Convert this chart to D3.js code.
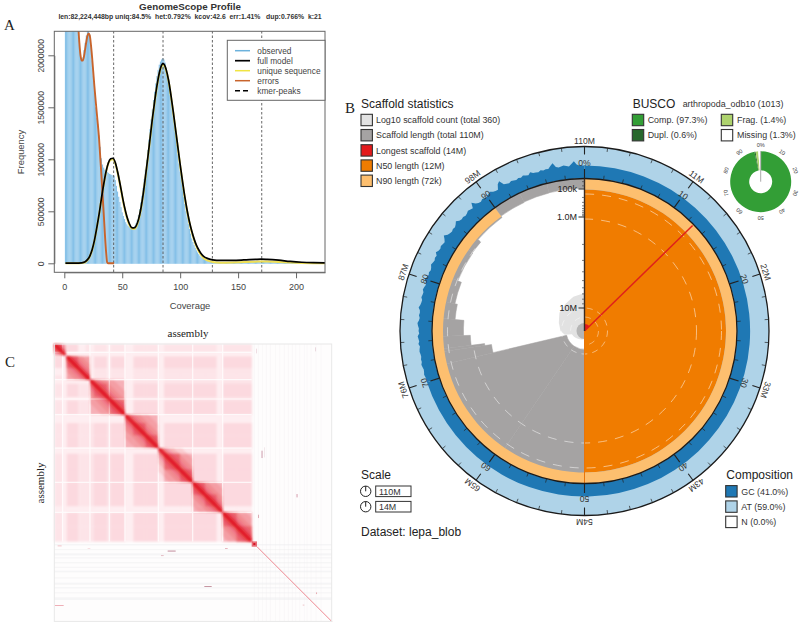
<!DOCTYPE html>
<html><head><meta charset="utf-8">
<script src="https://cdn.jsdelivr.net/npm/d3@7"></script>
<style>html,body{margin:0;padding:0;background:#fff}svg{display:block}text{font-family:"Liberation Sans",Arial,sans-serif}</style>
</head><body><svg id="c" width="800" height="625"></svg>
<script>
// ---------- GenomeScope data (frequency in thousands) ----------
const gsTitle = "GenomeScope Profile";
const gsSub = "len:82,224,448bp uniq:84.5%  het:0.792%  kcov:42.6  err:1.41%   dup:0.766%  k:21";
const observed = [9000,8000,7000,6000,5200,4500,3900,3400,3000,2700,2450,2250,2100,2000,1960,1980,2050,2120,2190,2230,2240,2200,2090,1950,1800,1660,1500,1400,1340,1230,1120,1010,950,920,900,890,880,870,860,855,850,845,840,800,745,690,640,590,540,490,455,425,395,375,360,350,340,335,335,345,360,385,420,465,520,585,650,725,810,900,995,1090,1190,1290,1385,1480,1570,1650,1730,1800,1860,1910,1940,1960,1970,1960,1930,1880,1820,1750,1670,1590,1500,1410,1320,1230,1140,1050,960,880,800,720,640,570,500,440,380,330,285,240,205,175,148,125,105,88,74,62,52,44,38,33,29,25,22,19,17,15,14,13,13,12,12,11,11,10,10,10,10,10,11,11,11,12,12,13,13,14,14,15,15,16,16,17,17,18,18,18,19,19,19,19,19,19,18,18,18,17,17,16,16,15,15,14,13,13,12,12,11,11,10,10,9,9,8,8,7,7,6,6,6,5,5,5,4,4,4,4,3,3,3,3,3,3,2,2,2,2,2,2,2];
const modelCov = [1,10,15,18,20,22,24,26,28,30,32,34,36,38,40,42,44,46,48,50,52,54,56,58,60,62,64,66,68,70,72,74,76,78,80,82,84,85,86,88,90,92,94,96,98,100,102,104,106,108,110,112,114,116,118,120,124,128,135,145,155,165,170,175,185,195,205,215,225];
const modelVal = [2,2,5,15,35,70,130,220,340,470,620,760,880,965,1005,1010,970,880,770,650,540,450,385,345,340,360,420,520,660,830,1010,1200,1390,1560,1710,1830,1905,1920,1915,1860,1760,1620,1460,1290,1120,950,790,640,510,400,310,235,175,130,95,70,45,33,28,28,32,38,40,38,30,18,10,6,4];
const uniqueVal = [0,0,2,10,30,65,125,215,335,465,615,755,875,960,995,1000,960,870,760,640,530,440,375,335,330,350,410,510,650,820,1000,1190,1380,1550,1700,1820,1895,1910,1905,1850,1750,1610,1450,1280,1110,940,780,630,500,390,300,225,162,115,80,52,25,12,6,8,12,16,18,17,12,7,3,1,0];
const errorCov = [8,10,12,13,14,15,16,17,18,19,20,21,22,23,24,25,26,28,30,32,34,36,37,38,43];
const errorVal = [4000,2900,2300,2120,2000,1950,1950,1990,2060,2130,2190,2210,2190,2100,1980,1840,1700,1450,1200,850,480,120,10,0,0];
const kmerPeaks = [42.6,85.2,127.8,170.4];
const gsLegend = ["observed","full model","unique sequence","errors","kmer-peaks"];
const gsLegendColors = ["#6cb2dc","#000","#f0e442","#c8642c","#000"];
const gsYTicks = [0,500000,1000000,1500000,2000000];
const gsXTicks = [0,50,100,150,200];

// ---------- Snail data ----------
const scaffoldEnd = [12.7,24.5,36.5,48,59.5,71.3,72.7,73,74.4,76.4,78.3,81,84.7,86.3,90,93,96,100];
const scaffoldLen = [14e6,12e6,12e6,11.5e6,10.7e6,10.7e6,1.66e6,1.4e6,0.98e6,0.56e6,0.27e6,0.22e6,0.16e6,0.155e6,0.115e6,0.1e6,0.09e6,0.085e6];
const logCountPct = [50,55,60,64,67,71,72,75,80,85,90,95,100];
const logCountR   = [8,9,10,11,12,13,20,24,27,31,33,36,38];
const gcFlat = 0.41;
const gcFrom = 70;
const gcBins = [.41,.40,.41,.43,.41,.40,.42,.44,.41,.42,.40,.41,.43,.42,.40,.44,.41,.43,.45,.40,.42,.41,.44,.46,.42,.40,.43,.41,.42,.47,.43,.41,.40,.44,.42,.41,.45,.43,.40,.42,.48,.44,.41,.43,.40,.42,.46,.43,.41,.44,.42,.49,.44,.42,.45,.43,.41,.47,.55,.46,.43,.41,.44,.42,.46,.52,.45,.42,.44,.41,.43,.47,.44,.42,.58,.47,.43,.41,.45,.43,.42,.46,.50,.44,.42,.41,.56,.62,.47,.44,.42,.45,.43,.41,.44,.42,.46,.43,.41,.48,.43,.42,.40,.44,.41,.43,.42,.50,.57,.44,.41,.43,.45,.42,.40,.47,.55,.44,.41,.41];
const outerLabels = ["110M","11M","22M","33M","43M","54M","65M","76M","87M","98M"];
const innerLabels = ["0%","10","20","30","40","50","60","70","80","90"];
const axisMajor = [["100k",1e5],["1.0M",1e6],["10M",1e7]];
const axisMinor = [2e4,5e4,2e5,3e5,4e5,5e5,6e5,7e5,8e5,9e5,2e6,3e6,4e6,5e6,6e6,7e6,8e6,9e6];
const statsLegend = ["Log10 scaffold count (total 360)","Scaffold length (total 110M)","Longest scaffold (14M)","N50 length (12M)","N90 length (72k)"];
const statsColors = ["#e2e2e2","#a5a3a3","#e31a1c","#f07c00","#fdbf6f"];
const compLegend = ["GC (41.0%)","AT (59.0%)","N (0.0%)"];
const compColors = ["#1f78b4","#afd3e8","#fff"];
const buscoNames = ["Comp. (97.3%)","Dupl. (0.6%)","Frag. (1.4%)","Missing (1.3%)"];
const buscoColors = ["#339e36","#27682c","#aed36e","#fff"];
const buscoVals = [97.3,0.6,1.4,1.3];

// ---------- Hi-C data (positions in map units) ----------
const hicEdges = [0,25,37,72,94,107,119,159,169,212,237,274,312,329,377,415,452,487,505,547,592];
const hicRows = [
"63423232323323333233",
"3222222222222222222",
"655242424424424442".slice(0,0)+"655242424424444244",
"55232323323333233",
"6232323323333233",
"555523323333233",
"65524424444244",
"5523323333233",
"624424444244",
"55522222222",
"6524444244",
"624444244",
"33322222",
"6544244",
"644244",
"65544",
"6544",
"522",
"65",
"6"];
const hicGaps = [25,107,165,212,312,415,505];
const chromStart = [0,37,107,212,312,415,505];
const chromEnd   = [34,107,212,312,415,505,592];
const stripHalf = [70,45,28,16,9,4];
const stripAlpha = [.1,.12,.16,.25,.5,.95];
const residBandsH = [[600,4],[615,3],[628,6],[640,3],[654,4],[668,3],[680,5],[700,3],[716,6],[729,4],[745,3],[760,8]];
const residBandsV = [600,612,625,636,648,664,676,690,702,714,724,736,750,758,770,785,800];
const hicSpots = [[605,14,2,14,"#e0bcc8"],[783,10,2,12,"#d8b4c0"],[622,320,2,22,"#a04060"],[630,310,1,30,"#d0aab8"],[727,450,2,10,"#b04060"],[612,512,2,10,"#c06070"],[340,620,24,2,"#8a2040"],[450,726,22,2,"#90304a"],[2,783,26,2,"#e06070"],[512,612,8,2,"#d07080"],[320,634,8,2,"#d08090"],[10,604,12,3,"#f0b0b8"],[100,612,8,2,"#f0c0c8"],[745,782,5,2,"#e09098"],[785,745,3,5,"#e09098"]];
const hicCorner = [[592,592,16,16,.6],[597,597,6,6,1]];
const hicTail = [608,832];

// ---------- Drawing ----------
const svg = d3.select("#c");
const defs = svg.append("defs");
defs.append("clipPath").attr("id","gsClip").append("rect").attr("x",54.3).attr("y",31.3).attr("width",270.7).attr("height",241);
defs.append("filter").attr("id","soft").append("feGaussianBlur").attr("stdDeviation",1.1);
defs.append("filter").attr("id","soft2").append("feGaussianBlur").attr("stdDeviation",0.9);

// A: GenomeScope
const gx = d3.scaleLinear().domain([0,225]).range([64.3,325]);
const gy = d3.scaleLinear().domain([0,2000000]).range([263.3,55.3]);
const A = svg.append("g");
A.append("g").attr("clip-path","url(#gsClip)").selectAll("rect").data(observed).join("rect")
  .attr("x",(d,i)=>gx(i+0.5)).attr("width",gx(1)-gx(0)-0.06)
  .attr("y",d=>gy(d*1000)).attr("height",d=>gy(0)-gy(d*1000)+0.5).attr("fill","#86c1e8");
const clipG = A.append("g").attr("clip-path","url(#gsClip)");
kmerPeaks.forEach(k=>clipG.append("line").attr("x1",gx(k)).attr("x2",gx(k)).attr("y1",31).attr("y2",273)
  .attr("stroke","#555").attr("stroke-dasharray","2.5 2").attr("stroke-width",0.9));
const ln = d3.line().curve(d3.curveMonotoneX);
const series = (xs,ys)=>ln(xs.map((c,i)=>[gx(c),gy(ys[i]*1000)]));
clipG.append("path").attr("d",series(modelCov,uniqueVal)).attr("fill","none").attr("stroke","#efdf55").attr("stroke-width",2);
clipG.append("path").attr("d",series(errorCov,errorVal)).attr("fill","none").attr("stroke","#c8642c").attr("stroke-width",1.9);
clipG.append("path").attr("d",series(modelCov,modelVal)).attr("fill","none").attr("stroke","#000").attr("stroke-width",1.7);
A.append("rect").attr("x",54.3).attr("y",31.3).attr("width",270.7).attr("height",241).attr("fill","none").attr("stroke","#666").attr("stroke-width",1);
const gxAx = d3.axisBottom(gx).tickValues(gsXTicks).tickSize(6).tickSizeOuter(0).tickFormat(d3.format("d"));
const gxG = A.append("g").attr("transform","translate(0,272.3)").call(gxAx);
gxG.selectAll("text").attr("font-size",9).attr("fill","#444").attr("y",11).attr("dy","0.71em");
gxG.selectAll("line,path").attr("stroke","#666");
const gyAx = d3.axisLeft(gy).tickValues(gsYTicks).tickSize(6).tickSizeOuter(0).tickFormat(d3.format("d"));
const gyG = A.append("g").attr("transform","translate(54.3,0)").call(gyAx);
gyG.selectAll("text").attr("font-size",8.6).attr("fill","#444").attr("text-anchor","middle").attr("dy",null).attr("x",null).attr("y",0)
  .attr("transform","translate(-10.5,0) rotate(-90)");
gyG.selectAll("line,path").attr("stroke","#666");
A.append("text").attr("x",190).attr("y",10).attr("text-anchor","middle").attr("font-size",9.8).attr("font-weight","bold").attr("fill","#333").text(gsTitle);
A.append("text").attr("x",190).attr("y",18.5).attr("text-anchor","middle").attr("font-size",6.85).attr("font-weight","bold").attr("fill","#333").attr("xml:space","preserve").text(gsSub);
A.append("text").attr("x",190).attr("y",309).attr("text-anchor","middle").attr("font-size",9.4).attr("fill","#444").text("Coverage");
A.append("text").attr("transform","translate(24,152) rotate(-90)").attr("text-anchor","middle").attr("font-size",9.4).attr("fill","#444").text("Frequency");
A.append("rect").attr("x",227.3).attr("y",40.3).attr("width",97.7).attr("height",60).attr("fill","#fff").attr("stroke","#666");
const gsLegendY = d3.scalePoint().domain(gsLegend).range([50.7,90.7]);
gsLegend.forEach((t,i)=>{
  A.append("line").attr("x1",235).attr("x2",250).attr("y1",gsLegendY(t)).attr("y2",gsLegendY(t)).attr("stroke",gsLegendColors[i]).attr("stroke-width",i==1?1.7:1.5).attr("stroke-dasharray",i==4?"5 3":null);
  A.append("text").attr("x",257.3).attr("y",gsLegendY(t)+2.8).attr("font-size",8.3).attr("fill","#444").text(t);
});
svg.append("text").attr("x",4).attr("y",30).attr("font-size",15).style("font-family","'Liberation Serif'").attr("fill","#222").text("A");
svg.append("text").attr("x",345).attr("y",113).attr("font-size",15).style("font-family","'Liberation Serif'").attr("fill","#222").text("B");
svg.append("text").attr("x",5).attr("y",367).attr("font-size",15).style("font-family","'Liberation Serif'").attr("fill","#222").text("C");

// B: Snail
const cx=584.5, cy=331;
const S = svg.append("g").attr("transform",`translate(${cx},${cy})`);
const ang = d3.scaleLinear().domain([0,100]).range([0,2*Math.PI]);
const rLen = d3.scaleLog().domain([14e6,1e7,1e6,1e5,1e4]).range([0,23,114,142,152.5]);
const rGC = d3.scaleLinear().domain([0,1]).range([152.5,184.5]);
const arc = d3.arc();
const sect=(p0,p1,r0,r1)=>arc({startAngle:ang(p0),endAngle:ang(p1),innerRadius:r0,outerRadius:r1});
S.append("path").attr("d",sect(0,100,152.5,184.5)).attr("fill",compColors[1]);
// GC band: flat part then bins
S.append("path").attr("d",sect(0,gcFrom,152.5,rGC(gcFlat))).attr("fill",compColors[0]);
S.append("path").attr("d",d3.areaRadial().angle(d=>ang(d[0])).innerRadius(152.5).outerRadius(d=>rGC(d[1])).curve(d3.curveLinear)(
  gcBins.map((v,i)=>[gcFrom+i*0.25,v]).concat([[100,gcFlat]]))).attr("fill",compColors[0]);
// scaffolds
const discLine=d3.lineRadial().angle((d,i)=>ang(logCountPct[i])).radius(d=>d).curve(d3.curveLinear);
const sc = scaffoldEnd.map((e,i)=>({s:i?scaffoldEnd[i-1]:0,e,len:scaffoldLen[i]}));
S.selectAll("path.g").data(sc).join("path").attr("class","g").attr("d",d=>sect(d.s,d.e,rLen(d.len),152.5)).attr("fill",statsColors[1]).attr("stroke",statsColors[1]).attr("stroke-width",.5);
S.append("path").attr("d",discLine(logCountR)+"L0,0Z").attr("fill",statsColors[0]);
S.append("path").attr("d",sect(50,100,0,8)).attr("fill","#b5b5b5");
S.append("path").attr("d",sect(0,50,0,141.5)).attr("fill",statsColors[3]);
S.append("path").attr("d",sect(0,90,141.5,152.5)).attr("fill",statsColors[4]);
// dashed reference rings
[[14,.4],[23,.45],[112,.5],[137,.5]].forEach(([r,o])=>{
  S.append("circle").attr("r",r).attr("fill","none").attr("stroke","#fff").attr("stroke-opacity",o).attr("stroke-width",1).attr("stroke-dasharray",r<30?"6 5":"9 8");
});
S.append("path").attr("d",sect(0,13,0,7)).attr("fill",statsColors[2]);
S.append("line").attr("x1",0).attr("y1",0).attr("x2",151*Math.sin(ang(12.7))).attr("y2",-151*Math.cos(ang(12.7))).attr("stroke","#e0211a").attr("stroke-width",1.5);
S.append("line").attr("y1",0).attr("y2",152).attr("stroke","#e8750a").attr("stroke-width",1);
S.append("circle").attr("r",152.5).attr("fill","none").attr("stroke","#1a1a1a").attr("stroke-width",1.3);
S.append("circle").attr("r",184.5).attr("fill","none").attr("stroke","#1a1a1a").attr("stroke-width",1.3);
// ticks
const tick=(p,r0,r1,w)=>S.append("line").attr("x1",r0*Math.sin(ang(p))).attr("y1",-r0*Math.cos(ang(p))).attr("x2",r1*Math.sin(ang(p))).attr("y2",-r1*Math.cos(ang(p))).attr("stroke","#222").attr("stroke-width",w);
d3.range(0,100,2).forEach(p=>{
  if(p%10){tick(p,184.5,180.5,.7);tick(p,152.5,156.5,.7);}
  else{tick(p,184.5,176.5,1.1);tick(p,152.5,162,1.1);}
});
const polarLabel=(txt,i,r)=>{const p=i*10,a=ang(p);
  S.append("text").attr("transform",`translate(${r*Math.sin(a)},${-r*Math.cos(a)}) rotate(${p*3.6})`)
   .attr("text-anchor","middle").attr("font-size",8.6).attr("fill","#333").text(txt);};
outerLabels.forEach((t,i)=>polarLabel(t,i,187.5));
innerLabels.forEach((t,i)=>polarLabel(t,i,165));
// radial axis
S.append("line").attr("y1",0).attr("y2",-152.5).attr("stroke","#3a2a20").attr("stroke-width",1.4);
axisMinor.forEach(v=>S.append("line").attr("x1",-2.5).attr("x2",0).attr("y1",-rLen(v)).attr("y2",-rLen(v)).attr("stroke","#444").attr("stroke-width",.7));
axisMajor.forEach(([t,v])=>{
  S.append("line").attr("x1",-6).attr("x2",0).attr("y1",-rLen(v)).attr("y2",-rLen(v)).attr("stroke","#222").attr("stroke-width",1);
  S.append("text").attr("x",-7.5).attr("y",-rLen(v)+3).attr("text-anchor","end").attr("font-size",9).attr("fill","#222").text(t);
});
// legends
const swatch=(x,yc,c,sz=11.4)=>svg.append("rect").attr("x",x).attr("y",yc-sz/2).attr("width",sz).attr("height",sz).attr("fill",c).attr("stroke","#333").attr("stroke-width",1.1);
const lab=(x,y,t,fs,c="#333")=>svg.append("text").attr("x",x).attr("y",y).attr("font-size",fs).attr("fill",c).text(t);
lab(361,107.7,"Scaffold statistics",12,"#222");
statsLegend.forEach((t,i)=>{const y=120+i*15.2;swatch(361,y,statsColors[i]);lab(376,y+3.2,t,8.9);});
lab(632.7,107.7,"BUSCO",12,"#222");
lab(682.7,107,"arthropoda_odb10 (1013)",8.9);
buscoNames.forEach((t,i)=>{const col=i>1?1:0,row=i%2,y=120+row*15.2;
  swatch(col?721.3:632.3,y,buscoColors[i]);lab(col?737:647.7,y+3.2,t,8.9);});
// BUSCO donut
const D=svg.append("g").attr("transform","translate(760.7,181.7)");
const pieData=d3.pie().sort(null)(buscoVals);
D.selectAll("path").data(pieData).join("path").attr("d",d3.arc().innerRadius(11.5).outerRadius(30.5)).attr("fill",(d,i)=>buscoColors[i]);
D.append("line").attr("y1",0).attr("y2",-30.5).attr("stroke","#aaa").attr("stroke-width",1);
innerLabels.forEach((t,i)=>{const a=ang(i*10);
  D.append("text").attr("transform",`translate(${34.5*Math.sin(a)},${-34.5*Math.cos(a)}) rotate(${i*36})`).attr("text-anchor","middle").attr("font-size",5.6).attr("fill","#444").text(t);});
// Scale
lab(361,479,"Scale",12,"#222");
[[491.3,"110M",0],[506.7,"14M",1]].forEach(([y,t,i])=>{
  svg.append("circle").attr("cx",365.7).attr("cy",y).attr("r",5.2).attr("fill","#fff").attr("stroke","#222").attr("stroke-width",1);
  svg.append("line").attr("x1",365.7).attr("x2",365.7).attr("y1",y).attr("y2",y-5.2).attr("stroke","#222");
  svg.append("rect").attr("x",375.7).attr("y",y-5.3).attr("width",35.3).attr("height",10.6).attr("fill","#fff").attr("stroke","#333").attr("stroke-width",1);
  lab(379,y+3.2,t,8.9);
});
lab(361,535.7,"Dataset: lepa_blob",12,"#222");
lab(726.3,479,"Composition",12,"#222");
compLegend.forEach((t,i)=>{const y=491.3+i*15.3;swatch(725.7,y,compColors[i]);lab(741.3,y+3.2,t,8.9);});

// C: Hi-C
const hx=d3.scaleLinear().domain([0,832]).range([54.3,331.7]);
const hy=d3.scaleLinear().domain([0,832]).range([344,621.4]);
const hc=d3.scaleLinear().domain([0,2,4,9]).range(["#ffffff","#feeef1","#fcd9df","#dc0a18"]);
const C=svg.append("g");
C.append("rect").attr("x",hx(0)).attr("y",hy(0)).attr("width",277.4).attr("height",277.4).attr("fill","#fefdfd");
const rb=C.append("g");
residBandsV.forEach(v=>rb.append("line").attr("x1",hx(v)).attr("x2",hx(v)).attr("y1",hy(0)).attr("y2",hy(832)).attr("stroke","#f1eff2").attr("stroke-width",.8).attr("opacity",.45));
residBandsH.forEach(([v,w])=>rb.append("rect").attr("x",hx(0)).attr("width",277.4).attr("y",hy(v)).attr("height",w/3).attr("fill","#ecebee").attr("opacity",.45));
const heat=C.append("g").attr("filter","url(#soft)");
hicRows.forEach((row,i)=>{for(let k=0;k<row.length;k++){const j=i+k,v=+row[k];
  [[i,j],[j,i]].forEach(([a,b])=>heat.append("rect").attr("x",hx(hicEdges[b])).attr("y",hy(hicEdges[a]))
   .attr("width",hx(hicEdges[b+1])-hx(hicEdges[b])+.3).attr("height",hy(hicEdges[a+1])-hy(hicEdges[a])+.3).attr("fill",hc(v)));
}});
const gapG=C.append("g").attr("stroke","#fff").attr("stroke-width",1.2).attr("opacity",.8);
hicGaps.forEach(v=>{
  gapG.append("line").attr("x1",hx(0)).attr("x2",hx(592)).attr("y1",hy(v)).attr("y2",hy(v));
  gapG.append("line").attr("y1",hy(0)).attr("y2",hy(592)).attr("x1",hx(v)).attr("x2",hx(v));
});
const diag=C.append("g").attr("filter","url(#soft2)");
chromStart.forEach((a,c)=>{const b=chromEnd[c];
  stripHalf.forEach((h0,k)=>{const h=Math.min(h0,b-a);
    const pts=[[a,a],[a+h,a],[b,b-h],[b,b],[b-h,b],[a,a+h]];
    diag.append("polygon").attr("points",pts.map(p=>hx(p[0])+","+hy(p[1])).join(" ")).attr("fill","#e0101c").attr("opacity",stripAlpha[k]);
  });
});
hicCorner.forEach(([x,y,w,h,o])=>C.append("rect").attr("x",hx(x)).attr("y",hy(y)).attr("width",hx(w)-hx(0)).attr("height",hy(h)-hy(0)).attr("fill","#d81020").attr("opacity",o));
C.append("line").attr("x1",hx(hicTail[0])).attr("y1",hy(hicTail[0])).attr("x2",hx(hicTail[1])).attr("y2",hy(hicTail[1])).attr("stroke","#ec7a84").attr("stroke-width",.9);
hicSpots.forEach(([x,y,w,h,c])=>C.append("rect").attr("x",hx(x)).attr("y",hy(y)).attr("width",hx(w)-hx(0)).attr("height",hy(h)-hy(0)).attr("fill",c).attr("opacity",.75));
C.append("rect").attr("x",hx(0)).attr("y",hy(0)).attr("width",277.4).attr("height",277.4).attr("fill","none").attr("stroke","#e8e8e8").attr("stroke-width",1);
C.append("text").attr("x",188).attr("y",337).attr("text-anchor","middle").attr("font-size",11).style("font-family","'Liberation Serif'").attr("fill","#222").text("assembly");
C.append("text").attr("transform","translate(44,483) rotate(-90)").attr("text-anchor","middle").attr("font-size",11).style("font-family","'Liberation Serif'").attr("fill","#222").text("assembly");
</script></body></html>
